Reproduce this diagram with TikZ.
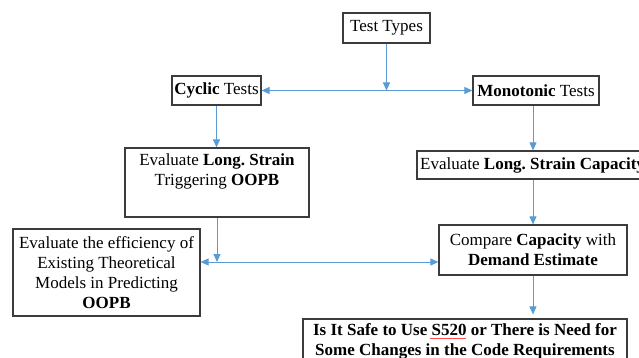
\documentclass[tikz,border=0pt]{standalone}
\usepackage{fontspec}
\setmainfont{Liberation Serif}
\usetikzlibrary{arrows.meta,calc}
\definecolor{arrowblue}{RGB}{91,155,213}
\definecolor{boxgray}{RGB}{60,60,60}
\frenchspacing
\begin{document}
\begin{tikzpicture}[x=1pt,y=-1pt,
  box/.style={draw=boxgray,line width=1.2pt,inner sep=0pt,align=center,
    font=\fontsize{17}{20}\selectfont},
  txt/.style={inner sep=0pt,align=center,font=\fontsize{17}{20}\selectfont},
  conn/.style={draw=arrowblue,line width=0.9pt,-{Triangle[length=8pt,width=7pt]}},
  dconn/.style={draw=arrowblue,line width=0.9pt,{Triangle[length=8pt,width=7pt]}-{Triangle[length=8pt,width=7pt]}}
]
\useasboundingbox (0,0) rectangle (639,358);
\clip (0,0) rectangle (639,358);
\fill[white] (0,0) rectangle (639,358);

\node[box,minimum width=87,minimum height=30] (tt) at (386.5,28) {Test Types};
\node[box,minimum width=89,minimum height=29] (cyc) at (216.5,90.5) {\textbf{Cyclic} Tests};
\node[box,minimum width=126,minimum height=29] (mono) at (536,90.5) {\textbf{Monotonic} Tests};

\node[box,minimum width=184,minimum height=69] (evls) at (217,182.5) {};
\node[txt] (evlstxt) at (217,171) {Evaluate \textbf{Long. Strain}\\Triggering \textbf{OOPB}};

\node[box,minimum width=283,minimum height=28] (evcap) at (558.5,165) {};
\node[txt,anchor=west] (evcaptxt) at (420,165) {Evaluate \textbf{Long. Strain Capacity}};

\node[box,minimum width=187,minimum height=87] (eff) at (106.5,272.5) {Evaluate the efficiency of\\Existing Theoretical\\Models in Predicting\\\textbf{OOPB}};

\node[box,minimum width=188,minimum height=50] (cmp) at (533,250) {Compare \textbf{Capacity} with\\\textbf{Demand Estimate}};

\node[box,minimum width=324,minimum height=70] (fin) at (465,354) {};
\node[txt] (fintxt) at (465,341.5) {\textbf{Is It Safe to Use S520 or There is Need for}\\\textbf{Some Changes in the Code Requirements}};
\draw[red!70,line width=0.5pt] (430,338.5) -- (466,338.5);

\coordinate (j1) at (386.5,90.5);
\coordinate (j2) at (217,262);

\draw[conn] (tt.south) -- (j1);
\draw[dconn] (cyc.east) -- (mono.west);
\draw[conn] (cyc.south) -- (cyc.south |- evls.north);
\draw[conn] (cmp.north |- mono.south) -- (cmp.north |- evcap.north);
\draw[conn] (cmp.north |- evcap.south) -- (cmp.north);
\draw[conn] (cmp.south) -- ($(cmp.south |- fin.north)+(0,-4)$);
\draw[conn] (evls.south) -- (j2);
\draw[dconn] (j2 -| eff.east) -- (j2 -| cmp.west);
\end{tikzpicture}
\end{document}
